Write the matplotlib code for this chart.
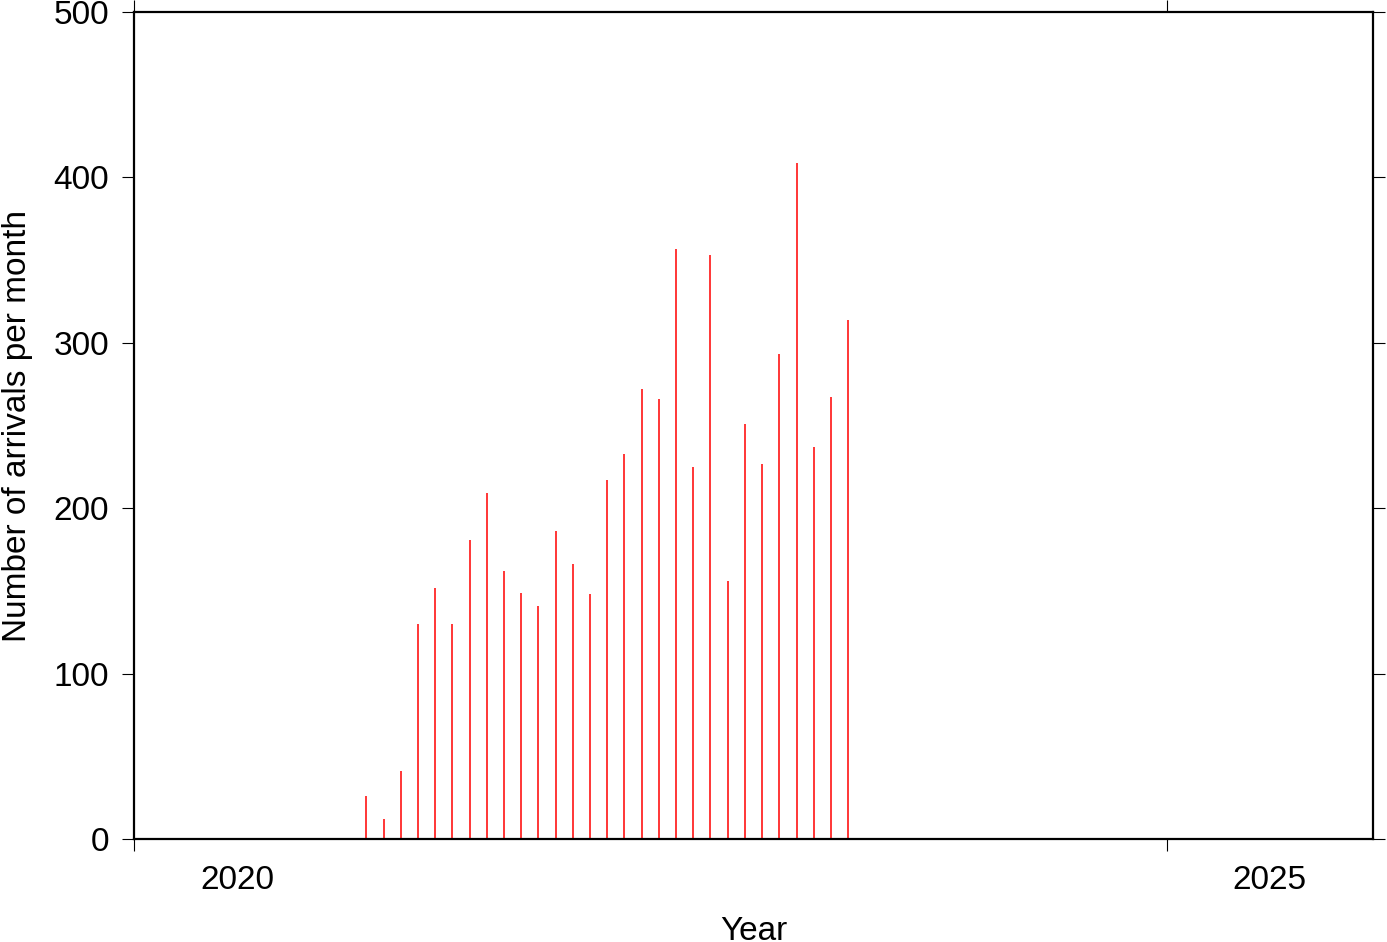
import matplotlib
matplotlib.use("Agg")
import matplotlib.pyplot as plt
import numpy as np

plt.rcParams['font.family'] = ['Liberation Sans', 'DejaVu Sans']

months = ["2021-02", "2021-03", "2021-04", "2021-05", "2021-06", "2021-07",
          "2021-08", "2021-09", "2021-10", "2021-11", "2021-12", "2022-01",
          "2022-02", "2022-03", "2022-04", "2022-05", "2022-06", "2022-07",
          "2022-08", "2022-09", "2022-10", "2022-11", "2022-12", "2023-01",
          "2023-02", "2023-03", "2023-04", "2023-05", "2023-06"]
arrivals = [26, 12, 41, 130, 152, 130, 181, 209, 162, 149, 141, 186,
            166, 148, 217, 233, 272, 266, 357, 225, 353, 156, 251, 227,
            293, 409, 237, 267, 314]
year_ticks = [2020, 2025]
year_labels = ["2020", "2025"]
y_ticks = [0, 100, 200, 300, 400, 500]

# decimal year at mid-month
xpos = [int(m[:4]) + (int(m[5:]) - 0.5) / 12 for m in months]

fig = plt.figure(figsize=(13.87, 9.42), dpi=100)
ax = fig.add_axes([134/1387, 1 - 839/942, (1373-134)/1387, (839-12)/942])

ax.vlines(xpos, 0, arrivals, colors='#ff0000', linewidth=1.1)

ax.set_xlim(2020, 2026)
ax.set_ylim(0, 500)

fs = 24
ax.set_xticks(year_ticks)
ax.set_xticklabels([])
ax.set_xticks([y + 0.5 for y in year_ticks], minor=True)
ax.set_xticklabels(year_labels, minor=True, fontsize=fs)
ax.tick_params(axis='x', which='major', direction='out', length=8.6, width=0.8,
               top=True, bottom=True)
ax.tick_params(axis='x', which='minor', length=0, pad=18.5, top=False)

ax.set_yticks(y_ticks)
ax.set_yticklabels([str(v) for v in y_ticks], fontsize=fs)
ax.tick_params(axis='y', which='major', direction='out', length=8.6, width=0.8,
               left=True, right=True, pad=9.4)

for sp in ax.spines.values():
    sp.set_linewidth(1.6)

ax.set_xlabel("Year", fontsize=fs)
ax.xaxis.set_label_coords(0.5, -0.0935)
ax.set_ylabel("Number of arrivals per month", fontsize=fs)
ax.yaxis.set_label_coords(-0.0815, 0.5)

fig.savefig("out.png", dpi=100)
